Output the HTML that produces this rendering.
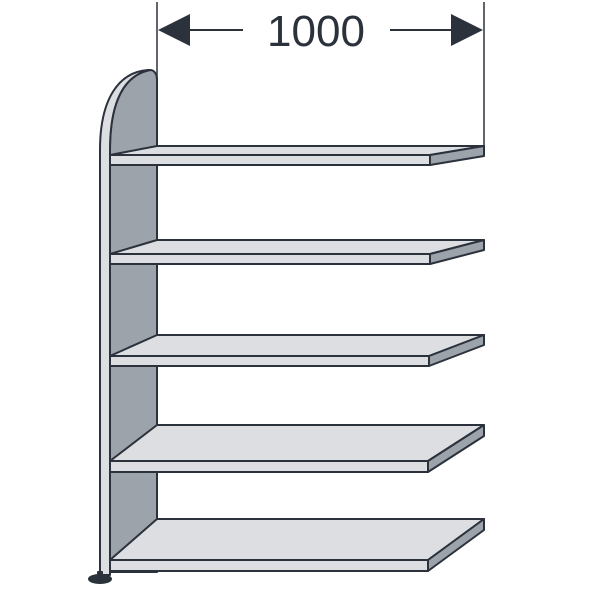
<!DOCTYPE html>
<html><head><style>body{margin:0;background:#fff}svg{display:block}</style></head><body>
<svg width="600" height="600" viewBox="0 0 600 600" xmlns="http://www.w3.org/2000/svg">
<g stroke="#2b323c" stroke-width="2" stroke-linejoin="round">
<!-- side panel -->
<path d="M110 572 L110 150 C110 100 125 75 150 70 C155 70 157 75 157 80 L157 572 Z" fill="#9da3ab"/>
<path d="M100 575 L100 150 C100 100 118 72 148 70 L150 70 C125 75 110 100 110 150 L110 575 Z" fill="#dcdee2"/>
<ellipse cx="100" cy="579" rx="11" ry="4" fill="#2b323c"/>
<rect x="98" y="572" width="4" height="6" fill="#2b323c"/>
<!-- dimension lines -->
<line x1="157" y1="2" x2="157" y2="146" stroke-width="1.5"/>
<line x1="484" y1="2" x2="484" y2="146" stroke-width="1.5"/>
<line x1="185" y1="30" x2="243" y2="30"/>
<line x1="390" y1="30" x2="455" y2="30"/>
</g>
<polygon points="158,30 190,14 190,46" fill="#2b323c"/>
<polygon points="483,30 451,14 451,46" fill="#2b323c"/>
<text x="316" y="46" font-family="Liberation Sans, sans-serif" font-size="44" text-anchor="middle" fill="#2b323c">1000</text>
<g stroke="#2b323c" stroke-width="2" stroke-linejoin="round">
<!-- shelves: back y, front y -->
<g>
<polygon points="157,146 484,146 430,155 110,155" fill="#dcdee2"/>
<rect x="110" y="155" width="320" height="10" fill="#dcdee2"/>
<polygon points="430,155 484,146 484,156 430,165" fill="#9da3ab"/>
</g>
<g>
<polygon points="157,240 484,240 430,254 110,254" fill="#dcdee2"/>
<rect x="110" y="254" width="320" height="10" fill="#dcdee2"/>
<polygon points="430,254 484,240 484,250 430,264" fill="#9da3ab"/>
</g>
<g>
<polygon points="157,335 484,335 429,356 110,356" fill="#dcdee2"/>
<rect x="110" y="356" width="319" height="10" fill="#dcdee2"/>
<polygon points="429,356 484,335 484,345 429,366" fill="#9da3ab"/>
</g>
<g>
<polygon points="157,425 484,425 428,461 110,461" fill="#dcdee2"/>
<rect x="110" y="461" width="318" height="11" fill="#dcdee2"/>
<polygon points="428,461 484,425 484,436 428,472" fill="#9da3ab"/>
</g>
<g>
<polygon points="157,519 484,519 428,560 110,560" fill="#dcdee2"/>
<rect x="110" y="560" width="318" height="11" fill="#dcdee2"/>
<polygon points="428,560 484,519 484,530 428,571" fill="#9da3ab"/>
</g>
</g>
</svg>
</body></html>
